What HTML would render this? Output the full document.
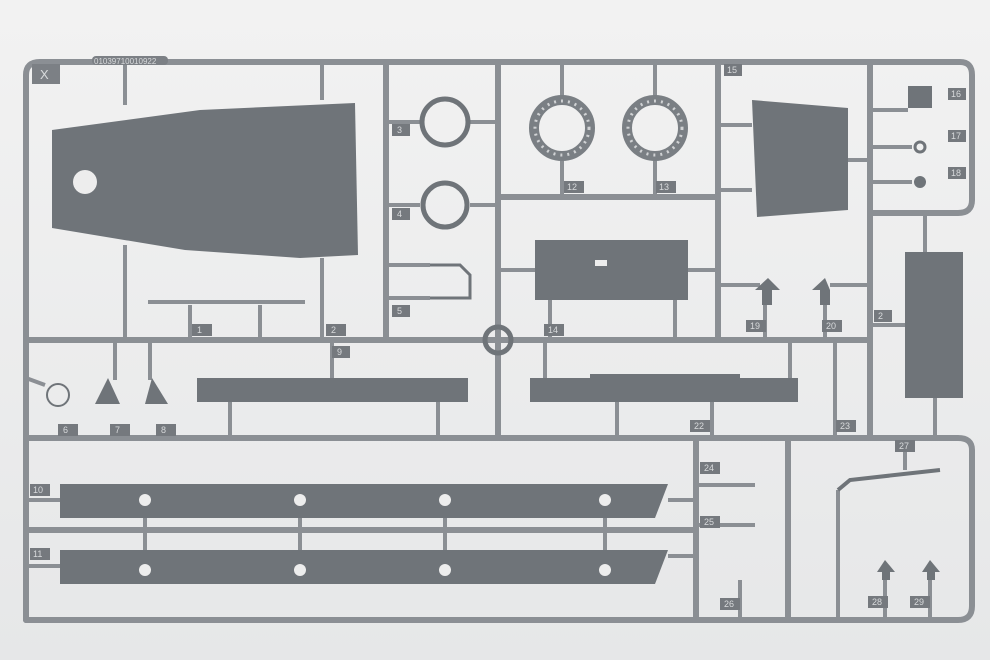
<!DOCTYPE html>
<html><head><meta charset="utf-8"><style>
html,body{margin:0;padding:0;background:#ededed;}
svg{display:block}
text{font-family:"Liberation Sans",sans-serif;font-size:9px;fill:#d8dadc}
</style></head><body>
<svg width="990" height="660" viewBox="0 0 990 660">
<defs>
<linearGradient id="bg" x1="0" y1="0" x2="0" y2="1"><stop offset="0" stop-color="#f2f2f2"/><stop offset="1" stop-color="#e6e7e8"/></linearGradient>
</defs>
<rect width="990" height="660" fill="url(#bg)"/>
<g stroke="#8b8f94" stroke-width="6" fill="none" stroke-linecap="round">
<path d="M26,620 L26,75 Q26,62 40,62 L960,62 Q972,62 972,75 L972,200 Q972,213 958,213 L870,213"/>
<path d="M26,620 L958,620 Q972,620 972,606 L972,450 Q972,438 958,438 L26,438"/>
<line x1="26" y1="340" x2="870" y2="340"/>
<line x1="386" y1="62" x2="386" y2="340"/>
<line x1="498" y1="62" x2="498" y2="438"/>
<line x1="718" y1="62" x2="718" y2="340"/>
<line x1="870" y1="62" x2="870" y2="438"/>
<line x1="498" y1="197" x2="718" y2="197"/>
<line x1="696" y1="438" x2="696" y2="620"/>
<line x1="788" y1="438" x2="788" y2="620"/>
<line x1="26" y1="530" x2="696" y2="530"/>
</g>
<g stroke="#8b8f94" stroke-width="4">
<line x1="125" y1="62" x2="125" y2="105"/><line x1="322" y1="62" x2="322" y2="100"/>
<line x1="125" y1="245" x2="125" y2="340"/><line x1="322" y1="258" x2="322" y2="340"/>
<line x1="190" y1="305" x2="190" y2="340"/><line x1="260" y1="305" x2="260" y2="340"/>
<line x1="386" y1="122" x2="420" y2="122"/><line x1="470" y1="122" x2="498" y2="122"/>
<line x1="386" y1="205" x2="420" y2="205"/><line x1="470" y1="205" x2="498" y2="205"/>
<line x1="562" y1="62" x2="562" y2="96"/><line x1="655" y1="62" x2="655" y2="96"/>
<line x1="562" y1="160" x2="562" y2="197"/><line x1="655" y1="160" x2="655" y2="197"/>
<line x1="718" y1="125" x2="752" y2="125"/><line x1="718" y1="190" x2="752" y2="190"/><line x1="848" y1="160" x2="870" y2="160"/>
<line x1="870" y1="110" x2="908" y2="110"/><line x1="870" y1="147" x2="912" y2="147"/><line x1="870" y1="182" x2="912" y2="182"/>
<line x1="498" y1="270" x2="535" y2="270"/><line x1="688" y1="270" x2="718" y2="270"/>
<line x1="550" y1="300" x2="550" y2="340"/><line x1="675" y1="300" x2="675" y2="340"/>
<line x1="386" y1="265" x2="430" y2="265"/><line x1="386" y1="298" x2="430" y2="298"/>
<line x1="718" y1="285" x2="760" y2="285"/><line x1="870" y1="285" x2="830" y2="285"/>
<line x1="765" y1="300" x2="765" y2="340"/><line x1="825" y1="300" x2="825" y2="340"/>
<line x1="870" y1="325" x2="905" y2="325"/><line x1="925" y1="213" x2="925" y2="252"/><line x1="935" y1="398" x2="935" y2="438"/>
<line x1="115" y1="340" x2="115" y2="380"/><line x1="150" y1="340" x2="150" y2="380"/>
<line x1="332" y1="340" x2="332" y2="378"/><line x1="230" y1="402" x2="230" y2="438"/><line x1="438" y1="402" x2="438" y2="438"/>
<line x1="545" y1="340" x2="545" y2="378"/><line x1="790" y1="340" x2="790" y2="378"/>
<line x1="617" y1="402" x2="617" y2="438"/><line x1="712" y1="402" x2="712" y2="438"/>
<line x1="835" y1="340" x2="835" y2="438"/>
<line x1="26" y1="378" x2="45" y2="385"/>
<line x1="26" y1="500" x2="60" y2="500"/><line x1="668" y1="500" x2="696" y2="500"/>
<line x1="26" y1="566" x2="60" y2="566"/><line x1="668" y1="556" x2="696" y2="556"/>
<line x1="145" y1="518" x2="145" y2="550"/><line x1="300" y1="518" x2="300" y2="550"/><line x1="445" y1="518" x2="445" y2="550"/><line x1="605" y1="518" x2="605" y2="550"/>
<line x1="696" y1="485" x2="755" y2="485"/><line x1="696" y1="525" x2="755" y2="525"/><line x1="740" y1="580" x2="740" y2="620"/>
<line x1="838" y1="490" x2="838" y2="620"/><line x1="905" y1="438" x2="905" y2="470"/>
<line x1="885" y1="580" x2="885" y2="620"/><line x1="930" y1="580" x2="930" y2="620"/>
<line x1="148" y1="302" x2="305" y2="302"/>
</g>
<g fill="#6f7479">
<polygon points="52,130 200,110 355,103 358,255 300,258 185,250 52,228"/>
<polygon points="752,100 848,108 848,210 757,217"/>
<rect x="535" y="240" width="153" height="60"/>
<rect x="905" y="252" width="58" height="146"/>
<rect x="197" y="378" width="271" height="24"/>
<polygon points="530,378 590,378 590,374 740,374 740,378 798,378 798,402 530,402"/>
<polygon points="60,484 668,484 655,518 60,518"/>
<polygon points="60,550 668,550 655,584 60,584"/>
<rect x="908" y="86" width="24" height="22"/>
<circle cx="920" cy="182" r="6"/>
<polygon points="95,404 108,378 120,404"/><polygon points="145,404 152,378 168,404"/>
<polygon points="755,290 768,278 780,290 772,290 772,305 762,305 762,290"/>
<polygon points="812,290 825,278 830,290 830,305 820,305 820,290"/>
<polygon points="877,572 885,560 895,572 890,572 890,580 882,580 882,572"/>
<polygon points="922,572 930,560 940,572 935,572 935,580 927,580 927,572"/>
</g>
<circle cx="85" cy="182" r="12" fill="#ededed"/>
<g fill="none" stroke="#6f7479">
<circle cx="445" cy="122" r="23" stroke-width="5"/><circle cx="445" cy="205" r="22" stroke-width="5"/>
<circle cx="562" cy="128" r="28" stroke-width="10" stroke="#7a7f84"/><circle cx="655" cy="128" r="28" stroke-width="10" stroke="#7a7f84"/>
<circle cx="562" cy="128" r="27" stroke-width="3" stroke="#d0d2d4" stroke-dasharray="2 5"/><circle cx="655" cy="128" r="27" stroke-width="3" stroke="#d0d2d4" stroke-dasharray="2 5"/>
<circle cx="920" cy="147" r="5" stroke-width="3"/>
<circle cx="58" cy="395" r="11" stroke-width="2"/>
<circle cx="498" cy="340" r="13" stroke-width="5"/>
<path d="M430,265 L460,265 L470,275 L470,298 L430,298" stroke-width="3"/>
<path d="M838,490 L850,480 L940,470" stroke-width="4"/>
</g>
<g fill="#ededed">
<circle cx="145" cy="500" r="6"/><circle cx="300" cy="500" r="6"/><circle cx="445" cy="500" r="6"/><circle cx="605" cy="500" r="6"/>
<circle cx="145" cy="570" r="6"/><circle cx="300" cy="570" r="6"/><circle cx="445" cy="570" r="6"/><circle cx="605" cy="570" r="6"/>
<rect x="595" y="260" width="12" height="6"/>
</g>
<g fill="#7c8085">
<rect x="32" y="64" width="28" height="20"/>
<rect x="92" y="56" width="76" height="9" rx="4"/>
</g>
<text x="40" y="79" style="font-size:13px">X</text>
<text x="94" y="64" style="font-size:8px">01039710010922</text>
<g fill="#75797e">
<rect x="192" y="324" width="20" height="12"/><rect x="326" y="324" width="20" height="12"/><rect x="392" y="124" width="18" height="12"/>
<rect x="392" y="208" width="18" height="12"/><rect x="392" y="305" width="18" height="12"/><rect x="564" y="181" width="20" height="12"/>
<rect x="656" y="181" width="20" height="12"/><rect x="724" y="64" width="18" height="12"/><rect x="948" y="88" width="18" height="12"/>
<rect x="948" y="130" width="18" height="12"/><rect x="948" y="167" width="18" height="12"/><rect x="544" y="324" width="20" height="12"/>
<rect x="746" y="320" width="20" height="12"/><rect x="822" y="320" width="20" height="12"/><rect x="874" y="310" width="18" height="12"/>
<rect x="332" y="346" width="18" height="12"/><rect x="58" y="424" width="20" height="12"/><rect x="110" y="424" width="20" height="12"/>
<rect x="156" y="424" width="20" height="12"/><rect x="690" y="420" width="20" height="12"/><rect x="836" y="420" width="20" height="12"/>
<rect x="895" y="440" width="20" height="12"/><rect x="30" y="484" width="20" height="12"/><rect x="30" y="548" width="20" height="12"/>
<rect x="700" y="462" width="20" height="12"/><rect x="700" y="516" width="20" height="12"/><rect x="720" y="598" width="20" height="12"/>
<rect x="868" y="596" width="20" height="12"/><rect x="910" y="596" width="20" height="12"/>
</g>
<text x="197" y="333">1</text><text x="331" y="333">2</text><text x="397" y="133">3</text><text x="397" y="217">4</text><text x="397" y="314">5</text>
<text x="567" y="190">12</text><text x="659" y="190">13</text><text x="727" y="73">15</text><text x="951" y="97">16</text><text x="951" y="139">17</text>
<text x="951" y="176">18</text><text x="548" y="333">14</text><text x="750" y="329">19</text><text x="826" y="329">20</text><text x="878" y="319">2</text>
<text x="337" y="355">9</text><text x="63" y="433">6</text><text x="115" y="433">7</text><text x="161" y="433">8</text><text x="694" y="429">22</text>
<text x="840" y="429">23</text><text x="899" y="449">27</text><text x="33" y="493">10</text><text x="33" y="557">11</text><text x="704" y="471">24</text>
<text x="704" y="525">25</text><text x="724" y="607">26</text><text x="872" y="605">28</text><text x="914" y="605">29</text>
</svg>
</body></html>
